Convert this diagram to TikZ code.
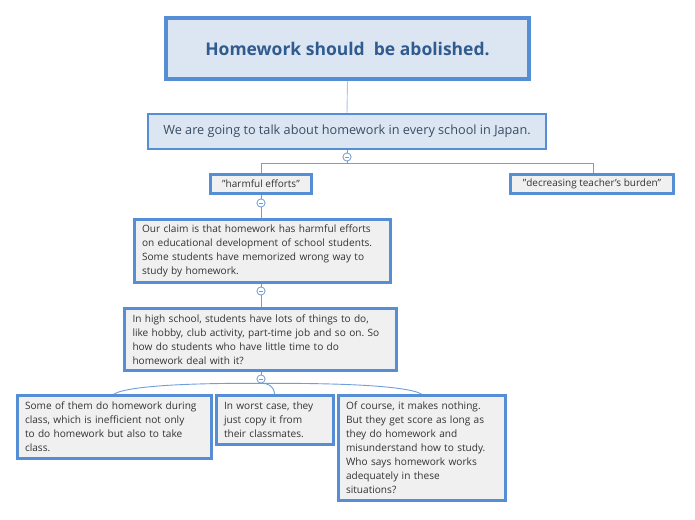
\documentclass[tikz,border=0pt]{standalone}
\usepackage{fontspec}
\setmainfont{Open Sans}
\frenchspacing
\definecolor{bordblue}{HTML}{558ED5}
\definecolor{lineblue}{HTML}{6F9FD8}
\definecolor{rootfill}{HTML}{DCE6F2}
\definecolor{grayfill}{HTML}{F0F0F0}
\definecolor{roottext}{HTML}{2F5B8F}
\definecolor{subtext}{HTML}{3A4D63}
\definecolor{bodytext}{HTML}{333333}
\newcommand{\dq}{\symbol{34}}
\newcommand{\sq}{\symbol{39}}
\newcommand{\nohyph}{\hyphenpenalty=10000\relax}
\tikzset{
  rootbox/.style={draw=bordblue, line width=4pt, fill=rootfill, inner sep=0pt,
    minimum width=363pt, minimum height=61pt, text=roottext,
    font=\fontsize{17.5}{20}\selectfont\bfseries},
  subbox/.style={draw=bordblue, line width=2pt, fill=rootfill, inner sep=0pt,
    minimum width=398pt, minimum height=35pt, text=subtext,
    font=\fontsize{12.7}{15}\selectfont},
  tagbox/.style={draw=bordblue, line width=3pt, fill=grayfill, inner sep=0pt,
    minimum height=19pt, text=bodytext, font=\fontsize{10}{14}\selectfont},
  textbox/.style={draw=bordblue, line width=3pt, fill=grayfill, inner ysep=0pt,
    align=left, text=bodytext, font=\fontsize{10.1}{14}\selectfont\nohyph},
  conn/.style={draw=lineblue, line width=0.9pt},
  toggle/.style={circle, draw=lineblue, line width=0.7pt, fill=white,
    minimum size=8pt, inner sep=0pt,
    path picture={\draw[lineblue, line width=0.7pt]
      ([xshift=-2pt]path picture bounding box.center) --
      ([xshift=2pt]path picture bounding box.center);}},
}
\begin{document}
\begin{tikzpicture}[x=1pt,y=-1pt]
\useasboundingbox (0,0) rectangle (695,519);
\fill[white] (0,0) rectangle (695,519);

\node[rootbox] (root) at (347.5,48.5) {Homework should\ \ be abolished.};
\node[subbox] (sub) at (347,131.5) {We are going to talk about homework in every school in Japan.};
\node[tagbox, minimum width=101pt] (harm) at (261,184) {\dq harmful efforts\dq};
\node[tagbox, minimum width=163pt] (decr) at (592,184) {\dq decreasing teacher\sq s burden\dq};
\node[textbox, text width=240pt, inner xsep=8pt, minimum height=63pt] (claim) at (262,251)
  {Our claim is that homework has harmful efforts\\on educational development of school students.\\Some students have memorized wrong way to\\study by homework.};
\node[textbox, text width=256pt, inner xsep=8pt, minimum height=62pt] (high) at (260.5,339.5)
  {In high school, students have lots of things to do,\\like hobby, club activity, part-time job and so on. So\\how do students who have little time to do\\homework deal with it?};
\node[textbox, text width=178pt, inner xsep=8pt, minimum height=63pt] (boxa) at (114,427)
  {Some of them do homework during\\class, which is inefficient not only\\to do homework but also to take\\class.};
\node[textbox, text width=101pt, inner xsep=8pt, minimum height=49pt] (boxb) at (274.5,420)
  {In worst case, they\\just copy it from\\their classmates.};
\node[textbox, text width=151pt, inner xsep=8pt, minimum height=105pt] (boxc) at (421.5,448)
  {Of course, it makes nothing.\\But they get score as long as\\they do homework and\\misunderstand how to study.\\Who says homework works\\adequately in these\\situations?};

\node[toggle] (t1) at (347,157) {};
\node[toggle] (t2) at (261,203) {};
\node[toggle] (t3) at (261,291) {};
\node[toggle] (t4) at (261,379) {};
\coordinate (hl) at (261,163);
\coordinate (hr) at (593,163);

\draw[conn, draw=lineblue!60] (root.south) -- (sub.north);
\draw[conn] (sub.south) -- (t1.north);
\draw[conn] (t1.south) -- (347,163);
\draw[conn] (hl) -- (hr);
\draw[conn] (hl) -- (harm.north);
\draw[conn] (hr) -- ([xshift=1pt]decr.north);
\draw[conn] (harm.south) -- (t2.north);
\draw[conn] (t2.south) -- (claim.north -| t2);
\draw[conn] (claim.south -| t3) -- (t3.north);
\draw[conn] (t3.south) -- (high.north -| t3);
\draw[conn] (high.south -| t4) -- (t4.north);
\draw[conn] (t4.south) .. controls (200,383) and (130,385) .. (boxa.north);
\draw[conn] (t4.south) .. controls (268,383) and (274,386) .. (boxb.north);
\draw[conn] (t4.south) .. controls (330,383) and (405,385) .. (boxc.north);

\node[toggle] at (t1) {};
\node[toggle] at (t2) {};
\node[toggle] at (t3) {};
\node[toggle] at (t4) {};
\end{tikzpicture}
\end{document}
